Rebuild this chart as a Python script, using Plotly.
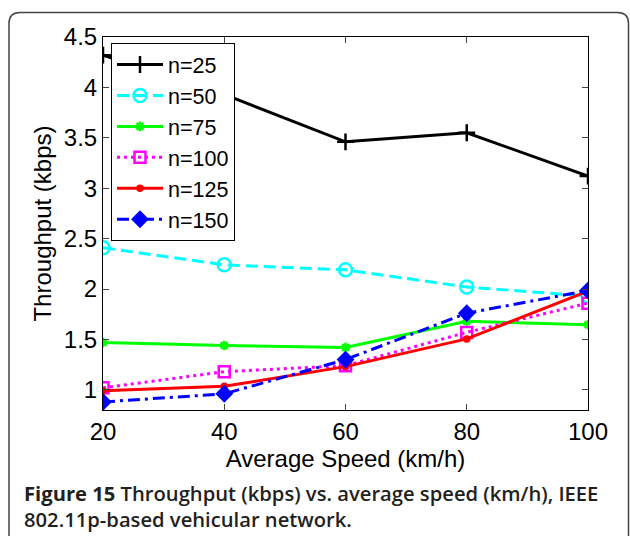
import plotly.graph_objects as go

speeds = [20, 40, 60, 80, 100]
n25 = [4.32, 3.93, 3.46, 3.55, 3.12]
n50 = [2.41, 2.24, 2.19, 2.02, 1.93]
n75 = [1.47, 1.44, 1.42, 1.68, 1.645]
n100 = [1.02, 1.18, 1.24, 1.57, 1.86]
n125 = [0.99, 1.035, 1.23, 1.505, 1.98]
n150 = [0.88, 0.96, 1.30, 1.76, 1.985]

series = [
    ("n=25", n25, "#000000", "solid", "cross-thin-open", 12),
    ("n=50", n50, "#00ffff", "12px,6px", "circle-open", 13),
    ("n=75", n75, "#00ff00", "solid", "asterisk-open", 8),
    ("n=100", n100, "#ff00ff", "3px,4px", "square-open", 11),
    ("n=125", n125, "#ff0000", "solid", "circle", 5),
    ("n=150", n150, "#0000ff", "12px,5px,3px,5px", "diamond", 11),
]

xticks = [20, 40, 60, 80, 100]
yticks = [1, 1.5, 2, 2.5, 3, 3.5, 4, 4.5]
yticklabels = ["1", "1.5", "2", "2.5", "3", "3.5", "4", "4.5"]

FONT = "Liberation Sans"

fig = go.Figure()
for i, (name, vals, col, dash, sym, size) in enumerate(series):
    fig.add_trace(go.Scatter(
        x=speeds, y=vals, name=name, mode="lines+markers",
        line=dict(color=col, width=3, dash=dash),
        marker=dict(symbol=sym, size=size, color=col,
                    line=dict(color=col, width=2.5)),
    ))

L, R, T, B = 103, 42, 37, 126
W, H = 630, 536
pw, ph = W - L - R, H - T - B

def px(x):
    return (x - L) / pw

def py(y):
    return (H - B - y) / ph

x0, x1 = px(9), px(628.5)
y0, y1 = py(545), py(12.5)
rx, ry = 11 / pw, 11 / ph
path = (f"M{x0},{y0} L{x0},{y1 - ry} Q{x0},{y1} {x0 + rx},{y1} "
        f"L{x1 - rx},{y1} Q{x1},{y1} {x1},{y1 - ry} L{x1},{y0}")

fig.update_layout(
    width=W, height=H,
    margin=dict(l=L, r=R, t=T, b=B),
    paper_bgcolor="white", plot_bgcolor="white",
    font=dict(family=FONT, size=24, color="black"),
    legend=dict(x=px(111), y=py(43), xanchor="left", yanchor="top",
                bgcolor="white", bordercolor="black", borderwidth=1,
                font=dict(family=FONT, size=21.5), tracegroupgap=0,
                itemwidth=46),
    shapes=[dict(type="path", path=path, xref="paper", yref="paper",
                 line=dict(color="#444444", width=1.5), layer="above")],
    annotations=[
        dict(text="<b>Figure 15</b> Throughput (kbps) vs. average speed (km/h), IEEE<br>802.11p-based vehicular network.",
             xref="paper", yref="paper", x=px(22), y=py(477),
             xanchor="left", yanchor="top", align="left", showarrow=False,
             font=dict(family="Open Sans", size=20.2, color="#231f20",
                       weight=600)),
    ],
)
fig.update_xaxes(
    range=[20, 100], tickvals=xticks, ticks="inside", ticklen=6,
    showline=True, linecolor="black", linewidth=1, mirror="ticks",
    showgrid=False, zeroline=False, tickfont=dict(family=FONT, size=24),
    title=dict(text="Average Speed (km/h)", font=dict(family=FONT, size=24),
               standoff=0),
)
fig.update_yaxes(
    range=[0.8, 4.5], tickvals=yticks, ticktext=yticklabels, ticks="inside",
    ticklen=6, showline=True, linecolor="black", linewidth=1, mirror="ticks",
    showgrid=False, zeroline=False, tickfont=dict(family=FONT, size=24),
    title=dict(text="Throughput (kbps)", font=dict(family=FONT, size=24),
               standoff=5),
)
fig.write_html("out.html")
